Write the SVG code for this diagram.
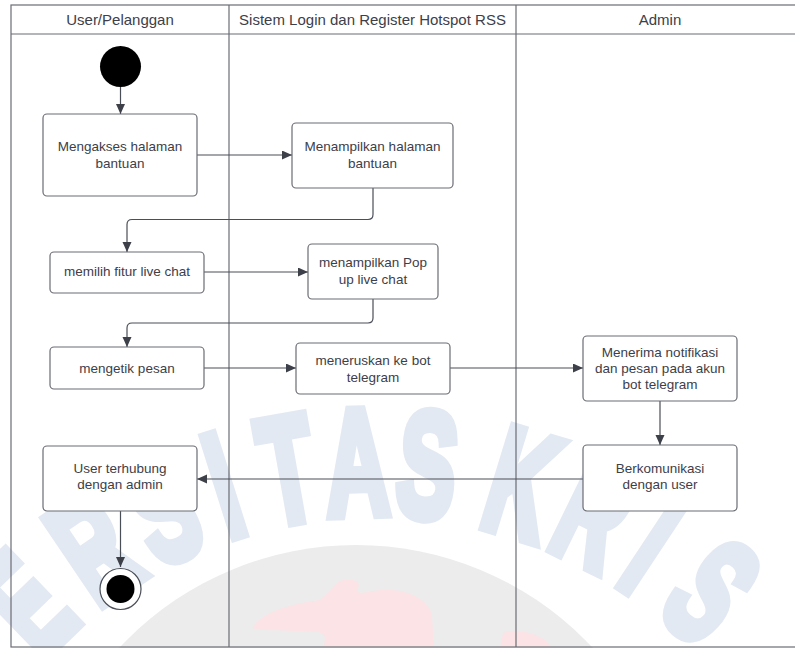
<svg xmlns="http://www.w3.org/2000/svg" width="795" height="648" viewBox="0 0 795 648">
<style>
  .frame{fill:none;stroke:#6a6d74;stroke-width:1.2}
  .box{fill:#ffffff;stroke:#6a6d74;stroke-width:1.2}
  .conn{fill:none;stroke:#4a4e57;stroke-width:1.2}
  .hdr{font-family:"Liberation Sans",Arial,sans-serif;font-size:15px;fill:#3d4049;text-anchor:middle}
  .lbl{font-family:"Liberation Sans",Arial,sans-serif;font-size:13.5px;fill:#3d4049;text-anchor:middle}
  .wm{font-family:"Liberation Sans",Arial,sans-serif;font-weight:700;font-size:150px;fill:#e2e9f2;stroke:#e2e9f2;stroke-width:11;stroke-linejoin:miter;text-anchor:middle}
</style>
<defs>
  <marker id="arr" markerUnits="userSpaceOnUse" markerWidth="11" markerHeight="10" refX="10" refY="4.5" orient="auto">
    <path d="M0,0 L10,4.5 L0,9 Z" fill="#3d4049"/>
  </marker>
</defs>
<rect width="795" height="648" fill="#ffffff"/>
<g id="watermark">
  <circle cx="356" cy="869" r="324" fill="#ececec"/>
  <path d="M252,628 C262,612 290,604 320,600 C330,592 335,584 340,581 C350,578 362,580 358,588 C356,596 365,592 380,590 C400,588 428,596 432,615 L434,648 L325,648 C322,640 330,636 318,632 C300,630 270,632 252,628 Z" fill="#fbe3e6"/>
  <path d="M503,633 C515,628 532,632 545,640 L552,648 L500,648 Z" fill="#fbe3e6"/>
  <text class="wm" transform="rotate(-44 375 965) translate(375 514) scale(0.58 1)">E</text>
  <text class="wm" transform="rotate(-34 375 965) translate(375 514) scale(0.58 1)">R</text>
  <text class="wm" transform="rotate(-25 375 965) translate(375 514) scale(0.58 1)">S</text>
  <text class="wm" transform="rotate(-17.5 375 965) translate(375 514) scale(0.58 1)">I</text>
  <text class="wm" transform="rotate(-10 375 965) translate(375 514) scale(0.58 1)">T</text>
  <text class="wm" transform="rotate(-2 375 965) translate(375 514) scale(0.58 1)">A</text>
  <text class="wm" transform="rotate(6 375 965) translate(375 514) scale(0.58 1)">S</text>
  <text class="wm" transform="rotate(17 375 965) translate(375 514) scale(0.58 1)">K</text>
  <text class="wm" transform="rotate(26 375 965) translate(375 514) scale(0.58 1)">R</text>
  <text class="wm" transform="rotate(33.5 375 965) translate(375 514) scale(0.58 1)">I</text>
  <text class="wm" transform="rotate(42 375 965) translate(375 514) scale(0.58 1)">S</text>
</g>
<g id="swimlanes">
  <rect class="frame" x="11" y="5" width="800" height="642"/>
  <line class="frame" x1="11" y1="34" x2="795" y2="34"/>
  <line class="frame" x1="229" y1="5" x2="229" y2="647"/>
  <line class="frame" x1="516" y1="5" x2="516" y2="647"/>
  <text class="hdr" x="120" y="24.5">User/Pelanggan</text>
  <text class="hdr" x="372.5" y="24.5">Sistem Login dan Register Hotspot RSS</text>
  <text class="hdr" x="660" y="24.5">Admin</text>
</g>
<g id="connectors">
  <line class="conn" x1="120.5" y1="87" x2="120.5" y2="114" marker-end="url(#arr)"/>
  <line class="conn" x1="197" y1="155" x2="292" y2="155" marker-end="url(#arr)"/>
  <path class="conn" d="M373,188 V214.5 Q373,219.5 368,219.5 H132 Q127,219.5 127,224.5 V252" marker-end="url(#arr)"/>
  <line class="conn" x1="204" y1="272" x2="308" y2="272" marker-end="url(#arr)"/>
  <path class="conn" d="M373,299 V318 Q373,323 368,323 H132 Q127,323 127,328 V347" marker-end="url(#arr)"/>
  <line class="conn" x1="204" y1="368" x2="296" y2="368" marker-end="url(#arr)"/>
  <line class="conn" x1="450" y1="368" x2="583" y2="368" marker-end="url(#arr)"/>
  <line class="conn" x1="660" y1="401" x2="660" y2="445" marker-end="url(#arr)"/>
  <line class="conn" x1="583" y1="479" x2="197" y2="479" marker-end="url(#arr)"/>
  <line class="conn" x1="120.5" y1="511" x2="120.5" y2="567" marker-end="url(#arr)"/>
</g>
<g id="start">
  <circle cx="120.5" cy="66.5" r="20.5" fill="#000000"/>
</g>
<g id="n1">
  <rect class="box" x="43" y="114" width="154" height="82" rx="4"/>
  <text class="lbl" x="120" y="151">Mengakses halaman</text>
  <text class="lbl" x="120" y="168">bantuan</text>
</g>
<g id="n2">
  <rect class="box" x="292" y="123" width="161" height="65" rx="4"/>
  <text class="lbl" x="372.5" y="150.5">Menampilkan halaman</text>
  <text class="lbl" x="372.5" y="167.5">bantuan</text>
</g>
<g id="n3">
  <rect class="box" x="50" y="252" width="154" height="41" rx="4"/>
  <text class="lbl" x="127" y="276">memilih fitur live chat</text>
</g>
<g id="n4">
  <rect class="box" x="308" y="244" width="130" height="55" rx="4"/>
  <text class="lbl" x="373" y="266.5">menampilkan Pop</text>
  <text class="lbl" x="373" y="283.5">up live chat</text>
</g>
<g id="n5">
  <rect class="box" x="50" y="347" width="154" height="42" rx="4"/>
  <text class="lbl" x="127" y="372.5">mengetik pesan</text>
</g>
<g id="n6">
  <rect class="box" x="296" y="343" width="154" height="51" rx="4"/>
  <text class="lbl" x="373" y="364.5">meneruskan ke bot</text>
  <text class="lbl" x="373" y="381.5">telegram</text>
</g>
<g id="n7">
  <rect class="box" x="583" y="336" width="154" height="65" rx="4"/>
  <text class="lbl" x="660" y="356.5">Menerima notifikasi</text>
  <text class="lbl" x="660" y="372.5">dan pesan pada akun</text>
  <text class="lbl" x="660" y="388.5">bot telegram</text>
</g>
<g id="n8">
  <rect class="box" x="583" y="445" width="154" height="66" rx="4"/>
  <text class="lbl" x="660" y="472.5">Berkomunikasi</text>
  <text class="lbl" x="660" y="488.5">dengan user</text>
</g>
<g id="n9">
  <rect class="box" x="43" y="446" width="154" height="65" rx="4"/>
  <text class="lbl" x="120" y="472.5">User terhubung</text>
  <text class="lbl" x="120" y="488.5">dengan admin</text>
</g>
<g id="end">
  <circle cx="120.5" cy="589" r="20.5" fill="#ffffff" stroke="#4a4e57" stroke-width="1.2"/>
  <circle cx="120.5" cy="589" r="14" fill="#000000"/>
</g>
</svg>
